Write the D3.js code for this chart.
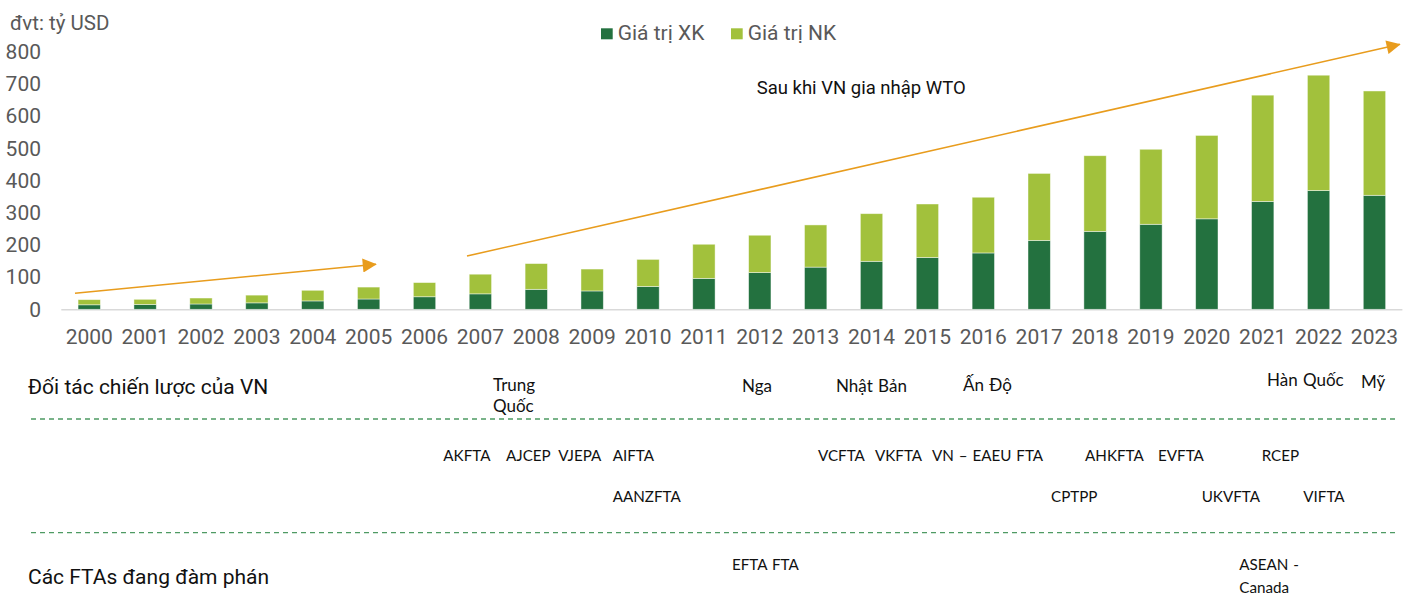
<!DOCTYPE html>
<html>
<head>
<meta charset="utf-8">
<script src="https://cdn.jsdelivr.net/npm/d3@7"></script>
<style>
  html, body { margin: 0; padding: 0; background: #fff; }
  svg { display: block; }
</style>
</head>
<body>
<svg id="chart" width="1413" height="596"></svg>
<script>
// ---- data ----
const years = ["2000","2001","2002","2003","2004","2005","2006","2007","2008","2009","2010","2011",
               "2012","2013","2014","2015","2016","2017","2018","2019","2020","2021","2022","2023"];
const exportVals = [14, 15, 16.5, 20, 26, 32, 39, 48, 62, 57, 71, 96, 114, 131, 149, 161, 175, 214, 242, 264, 281, 335, 369, 354];
const importVals = [16, 16, 18.5, 24, 33, 37, 44, 61, 80, 68, 84, 106, 116, 131, 148, 166, 173, 208, 235, 233, 259, 330, 358, 324];
const seriesNames = ["Giá trị XK", "Giá trị NK"];
const yTicks = [0, 100, 200, 300, 400, 500, 600, 700, 800];
const unitLabel = "đvt: tỷ USD";
const wtoLabel = "Sau khi VN gia nhập WTO";
const rowTitles = ["Đối tác chiến lược của VN", "Các FTAs đang đàm phán"];
const partnerLabels = ["Trung|Quốc", "Nga", "Nhật Bản", "Ấn Độ", "Hàn Quốc", "Mỹ"];
const ftaRow1 = ["AKFTA", "AJCEP", "VJEPA", "AIFTA", "VCFTA", "VKFTA", "VN – EAEU FTA", "AHKFTA", "EVFTA", "RCEP"];
const ftaRow2 = ["AANZFTA", "CPTPP", "UKVFTA", "VIFTA"];
const negotiating = ["EFTA FTA", "ASEAN -|Canada"];

// ---- layout ----
const colors = { xk: "#23713f", nk: "#a2c13c", arrow: "#e89c1d", axis: "#595959", dash: "#4e9a63" };
const svg = d3.select("#chart");
const yBase = 309.3, yTop = 51.7;
const x = d3.scaleBand().domain(years).range([61.3, 1402.4]).paddingInner(0.6).paddingOuter(0.3);
const y = d3.scaleLinear().domain([0, 800]).range([yBase, yTop]);

const rows = years.map((yr, i) => ({ year: yr, xk: exportVals[i], nk: importVals[i] }));
const stacked = d3.stack().keys(["xk", "nk"])(rows);

// baseline
svg.append("line")
  .attr("x1", x.range()[0]).attr("x2", x.range()[1])
  .attr("y1", y(0) + 0.5).attr("y2", y(0) + 0.5)
  .attr("stroke", "#d9d9d9").attr("stroke-width", 1.6);

// bars
svg.append("g").selectAll("g").data(stacked).join("g")
  .attr("fill", d => colors[d.key])
  .selectAll("rect").data(d => d).join("rect")
  .attr("x", d => x(d.data.year))
  .attr("width", x.bandwidth())
  .attr("y", d => y(d[1]))
  .attr("height", d => y(d[0]) - y(d[1]))
  .attr("stroke", "rgba(255,255,255,0.55)").attr("stroke-width", 0.8);

// y axis
const yAxis = svg.append("g").attr("transform", "translate(41,0)")
  .call(d3.axisLeft(y).tickValues(yTicks).tickSize(0).tickPadding(0));
yAxis.select(".domain").remove();
yAxis.selectAll("text").attr("font-family", "Roboto").attr("font-size", 21).attr("fill", colors.axis);

// x axis
const xAxis = svg.append("g").attr("transform", `translate(0,${yBase})`)
  .call(d3.axisBottom(x).tickSize(0).tickPadding(20));
xAxis.select(".domain").remove();
xAxis.selectAll("text").attr("font-family", "Roboto").attr("font-size", 21).attr("fill", colors.axis);

// unit label
svg.append("text").attr("x", 10).attr("y", 30).text(unitLabel)
  .attr("font-family", "Roboto").attr("font-size", 20.5).attr("fill", colors.axis);

// legend
const legendPos = [601, 731];
seriesNames.forEach((name, i) => {
  const g = svg.append("g").attr("transform", `translate(${legendPos[i]},0)`);
  g.append("rect").attr("x", 0).attr("y", 28.3).attr("width", 11.7).attr("height", 11)
    .attr("fill", i === 0 ? colors.xk : colors.nk);
  g.append("text").attr("x", 16.7).attr("y", 40).text(name)
    .attr("font-family", "Roboto").attr("font-size", 21).attr("fill", colors.axis);
});

// arrows (anchored to the chart scales)
const defs = svg.append("defs");
defs.append("marker").attr("id", "tri").attr("viewBox", "0 0 10 10")
  .attr("refX", 9.5).attr("refY", 5).attr("markerUnits", "userSpaceOnUse")
  .attr("markerWidth", 16).attr("markerHeight", 14).attr("orient", "auto")
  .append("path").attr("d", "M0,0 L10,5 L0,10 Z").attr("fill", colors.arrow);
const cx = yr => x(yr) + x.bandwidth() / 2;
const step = x.step();
const arrows = [
  { x1: cx("2000") - 0.255 * step, v1: 50, x2: cx("2005") + 0.133 * step, v2: 140 },
  { x1: cx("2007") - 0.24 * step, v1: 165.5, x2: cx("2023") + 0.456 * step, v2: 823 }
];
svg.append("g").selectAll("line").data(arrows).join("line")
  .attr("x1", d => d.x1).attr("y1", d => y(d.v1))
  .attr("x2", d => d.x2).attr("y2", d => y(d.v2))
  .attr("stroke", colors.arrow).attr("stroke-width", 1.6)
  .attr("marker-end", "url(#tri)");

svg.append("text").attr("x", 756.7).attr("y", 94).text(wtoLabel)
  .attr("font-family", "Roboto").attr("font-size", 18.5).attr("fill", "#111");

// dashed separators
[419, 532.7].forEach(yy => {
  svg.append("line").attr("x1", 31).attr("x2", 1398).attr("y1", yy).attr("y2", yy)
    .attr("stroke", colors.dash).attr("stroke-width", 1.3).attr("stroke-dasharray", "5,4");
});

// row titles
const titleY = [394, 584];
rowTitles.forEach((t, i) => {
  svg.append("text").attr("x", 28).attr("y", titleY[i]).text(t)
    .attr("font-family", "Roboto").attr("font-size", 21).attr("fill", "#111");
});

// annotation labels (Calibri-like)
function label(txt, xx, yy, size, lh) {
  const parts = txt.split("|");
  const t = svg.append("text").attr("font-family", "Lato").attr("font-size", size).attr("fill", "#111")
    .attr("word-spacing", 1);
  parts.forEach((p, k) => {
    t.append("tspan").attr("x", xx).attr("y", yy + k * lh).text(p);
  });
}
const partnerPos = [[493, 391], [742, 392], [836, 392], [963, 391], [1267, 386], [1361, 388]];
partnerLabels.forEach((p, i) => label(p, partnerPos[i][0], partnerPos[i][1], 17, 21));
const fta1X = [443.3, 506, 558.3, 612.7, 818, 875, 932, 1085, 1158, 1261.7];
ftaRow1.forEach((p, i) => label(p, fta1X[i], 461, 15.2, 0));
const fta2X = [612.7, 1051, 1201.7, 1303.3];
ftaRow2.forEach((p, i) => label(p, fta2X[i], 501.7, 15.2, 0));
const negX = [732, 1239.3];
negotiating.forEach((p, i) => label(p, negX[i], 569.5, 15.2, 23));
</script>
</body>
</html>
